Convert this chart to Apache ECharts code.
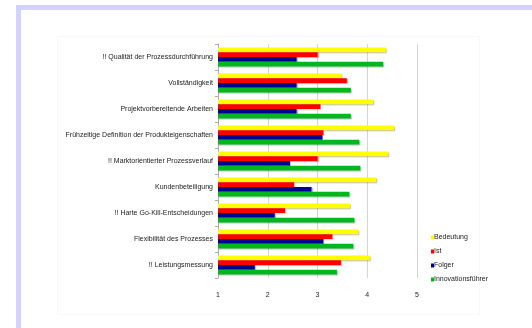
<!DOCTYPE html>
<html>
<head>
<meta charset="utf-8">
<script src="https://cdn.jsdelivr.net/npm/echarts@6/dist/echarts.min.js"></script>
<style>
  html, body { margin: 0; padding: 0; background: #fff; }
  #frame {
    position: absolute; left: 16px; top: 5px; right: 0; bottom: 0;
    border-left: 5px solid #d3d3fd; border-top: 5px solid #d3d3fd;
  }
  #inner {
    position: absolute; left: 57px; top: 36px; width: 421px; height: 277px;
    border: 1px solid #f8f8f8;
  }
  #chart { position: absolute; left: 0; top: 0; width: 532px; height: 328px; }
</style>
</head>
<body>
<div id="frame"></div>
<div id="inner"></div>
<div id="chart"></div>
<script>
const categories = [
  '!! Qualität der Prozessdurchführung',
  'Vollständigkeit',
  'Projektvorbereitende Arbeiten',
  'Frühzeitige Definition der Produkteigenschaften',
  '!! Marktorientierter Prozessverlauf',
  'Kundenbeteiligung',
  '!! Harte Go-Kill-Entscheidungen',
  'Flexibilität des Prozesses',
  '!! Leistungsmessung'
];
const bedeutung = [4.37, 3.48, 4.12, 4.54, 4.42, 4.18, 3.65, 3.82, 4.05];
const ist = [3.0, 3.59, 3.06, 3.12, 3.0, 2.53, 2.35, 3.30, 3.47];
const folger = [2.58, 2.58, 2.58, 3.10, 2.45, 2.88, 2.14, 3.12, 1.74];
const innovationsfuehrer = [4.32, 3.67, 3.67, 3.84, 3.86, 3.64, 3.74, 3.72, 3.39];
const seriesNames = ['Bedeutung', 'Ist', 'Folger', 'Innovationsführer'];
const colors = ['#ffff00', '#ff0000', '#00008f', '#00b81c'];

const font = '"Liberation Sans Narrow", "Liberation Sans", Arial, sans-serif';
const chart = echarts.init(document.getElementById('chart'));

const makeSeries = (name, data) => ({
  name: name,
  type: 'bar',
  data: data,
  barGap: '0%',
  barCategoryGap: '27%',
  itemStyle: {
    shadowColor: 'rgba(0,0,0,0.25)',
    shadowOffsetX: 1,
    shadowOffsetY: 1,
    shadowBlur: 1
  }
});

const option = {
  animation: false,
  color: colors,
  textStyle: { fontFamily: font },
  grid: { left: 218, right: 115, top: 44, bottom: 50 },
  legend: {
    orient: 'vertical',
    left: 426,
    top: 229,
    icon: 'rect',
    itemWidth: 3,
    itemHeight: 4,
    itemGap: 7,
    data: seriesNames,
    textStyle: { fontSize: 7, color: '#222', fontFamily: font, padding: [0, 0, 0, -5] }
  },
  xAxis: {
    type: 'value',
    min: 1,
    max: 5,
    interval: 1,
    axisLine: { show: false },
    axisTick: { show: false },
    axisLabel: { fontSize: 7, color: '#222', margin: 14 },
    splitLine: { lineStyle: { color: '#d4d4d4', width: 1 } }
  },
  yAxis: {
    type: 'category',
    inverse: true,
    data: categories,
    axisLine: { show: true, lineStyle: { color: '#aaa' } },
    axisTick: { show: true, length: 3, lineStyle: { color: '#aaa' } },
    axisLabel: { fontSize: 7, color: '#222', margin: 5 }
  },
  series: [
    makeSeries(seriesNames[0], bedeutung),
    makeSeries(seriesNames[1], ist),
    makeSeries(seriesNames[2], folger),
    makeSeries(seriesNames[3], innovationsfuehrer)
  ]
};

chart.setOption(option);
</script>
</body>
</html>
